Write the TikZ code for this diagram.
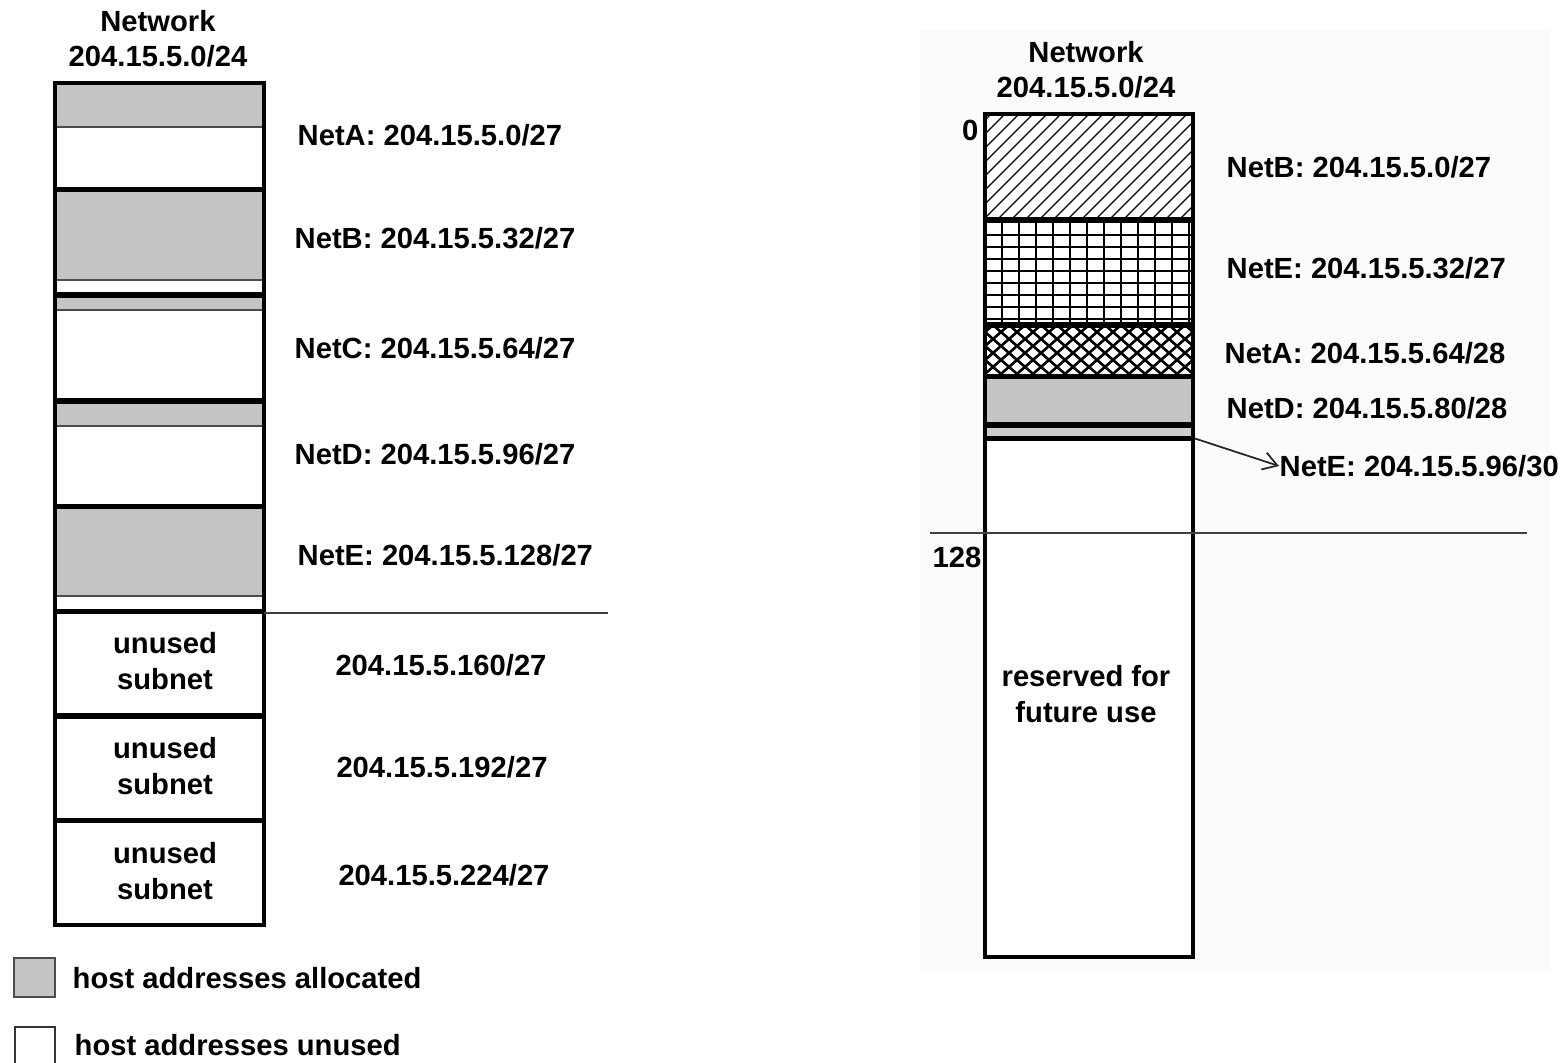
\documentclass[tikz,border=0pt]{standalone}
\usepackage{fontspec}
\setmainfont{Liberation Sans}
\usetikzlibrary{arrows.meta}
\definecolor{allocgray}{RGB}{196,196,196}
\definecolor{lightband}{RGB}{205,205,205}
\definecolor{panelbg}{RGB}{252,250,252}
\tikzset{
  lbl/.style={font=\fontsize{8.3}{10}\selectfont\bfseries, inner sep=0pt},
  outline/.style={line width=1.2pt},
  divider/.style={line width=1.6pt},
  alloc/.style={fill=allocgray},
  bandedge/.style={line width=0.4pt, draw=black!70},
  scale line/.style={line width=0.6pt, draw=black!75},
  hatchline/.style={line width=0.35pt},
  gridline/.style={line width=0.55pt},
  crossline/.style={line width=0.75pt},
}
\begin{document}
\begin{tikzpicture}[x=0.01cm,y=-0.01cm]
\useasboundingbox (0,0) rectangle (1564,1062);
\fill[white] (0,0) rectangle (1564,1062);
\fill[panelbg] (920,30) rectangle (1550,972);

% ================= LEFT DIAGRAM =================
\node[lbl, align=center] (ltitle) at (158,39) {Network\\204.15.5.0/24};

% allocated (gray) parts of each /27
\fill[alloc] (55,83) rectangle (264,127);   \draw[bandedge] (55,127) -- (264,127);
\fill[alloc] (55,189.5) rectangle (264,280); \draw[bandedge] (55,280) -- (264,280);
\fill[alloc] (55,295) rectangle (264,310);   \draw[bandedge] (55,310) -- (264,310);
\fill[alloc] (55,401) rectangle (264,426);   \draw[bandedge] (55,426) -- (264,426);
\fill[alloc] (55,506.5) rectangle (264,596); \draw[bandedge] (55,596) -- (264,596);

% dividers
\foreach \yy in {189.5,295,401,506.5,611.5,716,820.5}
  \draw[divider] (55,\yy) -- (266,\yy);
% outline
\draw[outline] (55,83) rectangle (264,925);

% subnet labels
\node[lbl, anchor=west] (lNetA) at (297,135) {NetA: 204.15.5.0/27};
\node[lbl, anchor=west] (lNetB) at (294,238) {NetB: 204.15.5.32/27};
\node[lbl, anchor=west] (lNetC) at (294,348) {NetC: 204.15.5.64/27};
\node[lbl, anchor=west] (lNetD) at (294,454) {NetD: 204.15.5.96/27};
\node[lbl, anchor=west] (lNetE) at (297,555) {NetE: 204.15.5.128/27};

\draw[scale line] (264,613) -- (608,613);

\node[lbl, align=center] (lun1) at (165,661) {unused\\subnet};
\node[lbl, align=center] (lun2) at (165,766) {unused\\subnet};
\node[lbl, align=center] (lun3) at (165,871) {unused\\subnet};
\node[lbl] (lad1) at (441,665) {204.15.5.160/27};
\node[lbl] (lad2) at (442,767) {204.15.5.192/27};
\node[lbl] (lad3) at (444,875) {204.15.5.224/27};

% legend
\draw[line width=0.6pt, draw=black!70, alloc] (14,958) rectangle (55,997);
\node[lbl, anchor=west] (legalloc) at (72,978) {host addresses allocated};
\draw[line width=0.6pt, draw=black!80, fill=white] (15,1027) rectangle (55,1068);
\node[lbl, anchor=west] (legunused) at (74,1045) {host addresses unused};

% ================= RIGHT DIAGRAM =================
\node[lbl, align=center] (rtitle) at (1086,70) {Network\\204.15.5.0/24};
\fill[white] (985,114) rectangle (1193,957);

% NetB /27 : diagonal hatch
\begin{scope}
  \clip (985,114) rectangle (1193,220);
  \foreach \k in {0,...,24}
    \draw[hatchline] ({885+14*\k},220) -- ({991+14*\k},114);
\end{scope}
% NetE /27 : grid
\begin{scope}
  \clip (985,220) rectangle (1193,325);
  \foreach \k in {1,...,12}
    \draw[gridline] ({985+17*\k},220) -- ({985+17*\k},325);
  \foreach \k in {1,...,8}
    \draw[gridline] (985,{223+12*\k}) -- (1193,{223+12*\k});
\end{scope}
% NetA /28 : cross hatch
\begin{scope}
  \clip (985,325) rectangle (1193,376.5);
  \foreach \k in {-4,...,16} {
    \draw[crossline] ({977+16*\k},325) -- ({977+16*\k+59},376.5);
    \draw[crossline] ({977+16*\k},325) -- ({977+16*\k-59},376.5);
  }
\end{scope}
% NetD /28 : gray
\fill[alloc] (985,376.5) rectangle (1193,425);
% NetE /30 : thin band
\fill[lightband] (985,425) rectangle (1193,438.5);

\foreach \yy in {220,325,376.5,425,438.5}
  \draw[divider] (985,\yy) -- (1194,\yy);
\draw[outline] (985,114) rectangle (1193,957);

\node[lbl, anchor=east] (rzero) at (979,130) {0};
\node[lbl, anchor=east] (r128) at (982,557) {128};
\draw[scale line] (930,533) -- (1527,533);

\node[lbl, anchor=west] (rNetB) at (1226,167) {NetB: 204.15.5.0/27};
\node[lbl, anchor=west] (rNetE) at (1226,268) {NetE: 204.15.5.32/27};
\node[lbl, anchor=west] (rNetA) at (1224,353) {NetA: 204.15.5.64/28};
\node[lbl, anchor=west] (rNetD) at (1226,408) {NetD: 204.15.5.80/28};
\node[lbl, anchor=west] (rNetEs) at (1279,466) {NetE: 204.15.5.96/30};

\coordinate (netesmall) at (1195,438.5);
\draw[line width=0.5pt, draw=black!85, -{Straight Barb[length=4pt,width=5pt]}] (netesmall) -- (rNetEs.west);

\node[lbl, align=center] (rreserved) at (1086,694) {reserved for\\future use};
\end{tikzpicture}
\end{document}
